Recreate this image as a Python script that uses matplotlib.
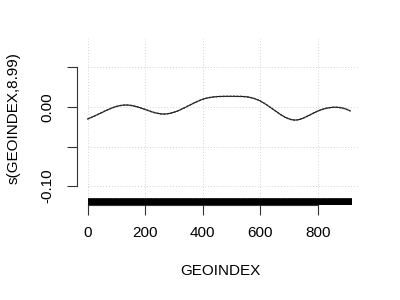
import matplotlib
matplotlib.use("Agg")
import matplotlib.pyplot as plt
import numpy as np

# smooth term estimate
geo = [0, 68, 131, 195, 264, 333, 403, 449, 506, 564, 598, 656, 723, 783, 852, 913]
fit = [-0.0152, -0.0038, 0.0025, -0.0025, -0.0089, -0.0017, 0.0101, 0.0131, 0.0135,
       0.0122, 0.0080, -0.0059, -0.0165, -0.0080, -0.0004, -0.0050]
se = 0.0005
rug_x = np.arange(0, 918)  # observed GEOINDEX values (dense rug)

xticks = [0, 200, 400, 600, 800]
yticks = [-0.10, -0.05, 0.00, 0.05]
ylabels = ['-0.10', '', '0.00', '']

plt.rcParams['font.family'] = ['Liberation Sans', 'DejaVu Sans']

fig = plt.figure(figsize=(4, 3), dpi=100)
ax = fig.add_axes((77/400, 95/300, 285/400, 167/300))
ax.set_xlim(-36.7, 953.7)
ax.set_ylim(-0.124, 0.0873)

# smooth curve through the read points
xs = np.linspace(geo[0], geo[-1], 400)
try:
    from scipy.interpolate import CubicSpline
    ys = CubicSpline(geo, fit)(xs)
except Exception:
    ys = np.interp(xs, geo, fit)

# grid
for gx in xticks:
    ax.axvline(gx, color='#d3d3d3', lw=0.7, ls=(0, (1, 2)), zorder=0)
for gy in yticks:
    ax.plot([0, 945], [gy, gy], color='#d3d3d3', lw=0.7, ls=(0, (1, 2)), zorder=0)

ax.plot(xs, ys, color='black', lw=0.7)
ax.plot(xs, ys + se, color='#333333', lw=0.5, ls=(0, (3, 2)))
ax.plot(xs, ys - se, color='#333333', lw=0.5, ls=(0, (3, 2)))

# rug
ax.vlines(rug_x, 0, 0.042, transform=ax.get_xaxis_transform(), color='black', lw=0.6)

for s in ['top', 'right']:
    ax.spines[s].set_visible(False)
ax.spines['left'].set_bounds(-0.10, 0.05)
ax.spines['bottom'].set_bounds(0, 800)
ax.spines['left'].set_color('#333333')
ax.spines['bottom'].set_color('#333333')
ax.spines['left'].set_linewidth(0.8)

ax.set_xticks(xticks)
ax.set_xticklabels([str(t) for t in xticks])
ax.set_yticks(yticks)
ax.set_yticklabels(ylabels, rotation=90, va='center')
ax.tick_params(axis='both', length=7, width=0.8, color='#333333', labelsize=11)
ax.tick_params(axis='x', pad=8)
ax.tick_params(axis='y', pad=9)

fig.text(220/400, 1 - 271/300, 'GEOINDEX', ha='center', va='center', fontsize=11)
fig.text(14/400, 1 - 118/300, 's(GEOINDEX,8.99)', ha='center', va='center',
         rotation=90, fontsize=11)

fig.savefig('out.png', dpi=100)
